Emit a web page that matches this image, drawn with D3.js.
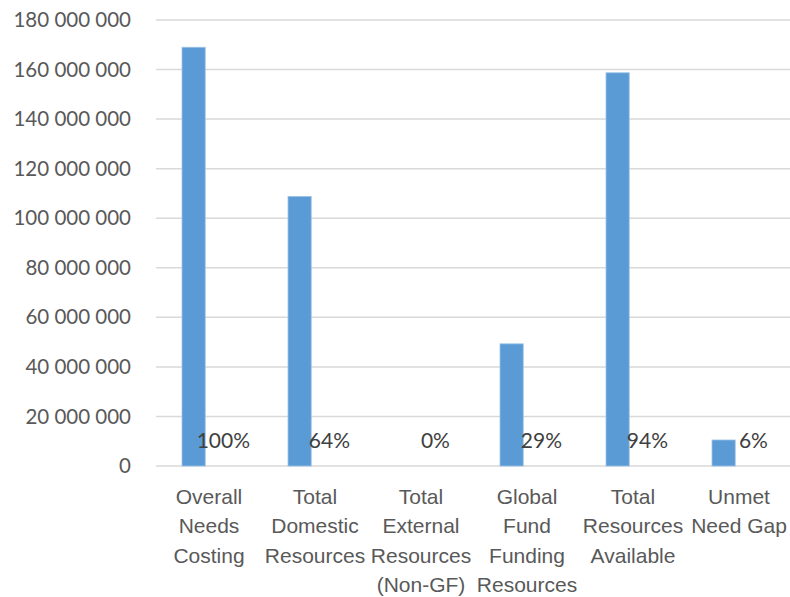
<!DOCTYPE html>
<html>
<head>
<meta charset="utf-8">
<script src="https://cdn.jsdelivr.net/npm/d3@7"></script>
<style>
  body { margin: 0; background: #fff; }
  svg { font-family: Lato, "Open Sans", sans-serif; }
</style>
</head>
<body>
<div id="chart"></div>
<script>
const width = 790;
const height = 597;
const margin = { top: 20, right: -2, bottom: 131, left: 156 };

// data
const categories = [
  "Overall Needs Costing",
  "Total Domestic Resources",
  "Total External Resources (Non-GF)",
  "Global Fund Funding Resources",
  "Total Resources Available",
  "Unmet Need Gap",
];
const categoryLines = [
  ["Overall", "Needs", "Costing"],
  ["Total", "Domestic", "Resources"],
  ["Total", "External", "Resources", "(Non-GF)"],
  ["Global", "Fund", "Funding", "Resources"],
  ["Total", "Resources", "Available"],
  ["Unmet", "Need Gap"],
];
const amounts = [169000000, 108800000, 0, 49300000, 158700000, 10500000];
const shares = [1.0, 0.64, 0.0, 0.29, 0.94, 0.06];
const yTicks = [0, 20e6, 40e6, 60e6, 80e6, 100e6, 120e6, 140e6, 160e6, 180e6];

const textColor = "#595959";
const gridColor = "#d9d9d9";
const barColor = "#5b9bd5";

const innerW = width - margin.left - margin.right;
const innerH = height - margin.top - margin.bottom;

const svg = d3
  .select("#chart")
  .append("svg")
  .attr("width", width)
  .attr("height", height)
  .append("g")
  .attr("transform", `translate(${margin.left},${margin.top})`);

const x = d3.scaleBand().domain(categories).range([0, innerW]);
const sub = d3
  .scaleBand()
  .domain(["amount", "share"])
  .range([26, 79])
  .paddingInner(0.22);

const y = d3.scaleLinear().domain([0, 180e6]).range([innerH, 0]);

const locale = d3.formatLocale({
  decimal: ".",
  thousands: " ",
  grouping: [3],
  currency: ["", ""],
});
const fmt = locale.format(",");

// gridlines
svg
  .append("g")
  .selectAll("line")
  .data(yTicks)
  .enter()
  .append("line")
  .attr("x1", 0)
  .attr("x2", width - margin.left)
  .attr("y1", (d) => y(d))
  .attr("y2", (d) => y(d))
  .attr("stroke", gridColor)
  .attr("stroke-width", 1.5);

// y axis labels
const yAxis = svg
  .append("g")
  .attr("transform", "translate(-25,0)")
  .call(d3.axisLeft(y).tickValues(yTicks).tickFormat(fmt).tickSize(0).tickPadding(0));
yAxis.select(".domain").remove();
yAxis
  .selectAll("text")
  .attr("fill", textColor)
  .style("font-size", "20.5px")
  .style("font-family", "Lato, 'Open Sans', sans-serif");

// bars
svg
  .selectAll(".bar")
  .data(amounts)
  .enter()
  .append("rect")
  .attr("class", "bar")
  .attr("x", (d, i) => x(categories[i]) + sub("amount"))
  .attr("width", sub.bandwidth())
  .attr("y", (d) => y(d))
  .attr("height", (d) => y(0) - y(d))
  .attr("fill", barColor)
  .attr("stroke", "#9dc3e6")
  .attr("stroke-width", (d) => (d > 0 ? 0.8 : 0));

// percentage labels (second series, values near zero on this axis)
const pct = d3.format(".0%");
svg
  .selectAll(".share")
  .data(shares)
  .enter()
  .append("text")
  .attr("class", "share")
  .attr("x", (d, i) => x(categories[i]) + sub("share") + sub.bandwidth() / 2)
  .attr("y", y(0) - 25)
  .attr("dy", "0.35em")
  .attr("text-anchor", "middle")
  .attr("fill", "#404040")
  .style("font-size", "21px")
  .text((d) => pct(d));

// x axis labels
const xAxis = svg
  .append("g")
  .attr("transform", `translate(0,${innerH})`)
  .call(d3.axisBottom(x).tickSize(0).tickPadding(0).tickFormat(""));
xAxis.select(".domain").remove();
xAxis.selectAll(".tick text").remove();
xAxis
  .selectAll(".tick")
  .append("text")
  .attr("text-anchor", "middle")
  .attr("fill", textColor)
  .style("font-size", "21px")
  .selectAll("tspan")
  .data((d) => categoryLines[categories.indexOf(d)])
  .enter()
  .append("tspan")
  .attr("x", 0)
  .attr("y", (d, i) => 38 + i * 29.3)
  .text((d) => d);
</script>
</body>
</html>
